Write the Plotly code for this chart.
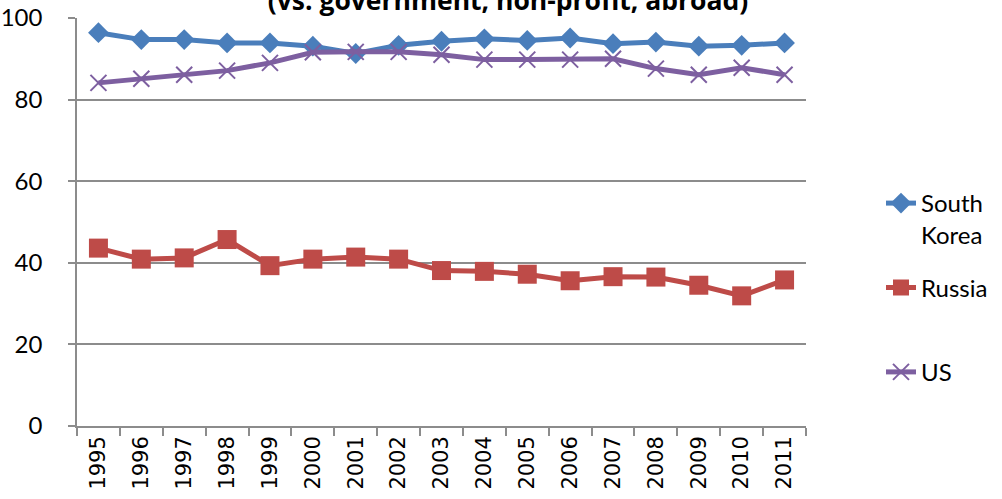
import plotly.graph_objects as go

years = [str(y) for y in range(1995, 2012)]

south_korea = [96.4, 94.7, 94.7, 93.9, 93.9, 93.1, 91.3, 93.3, 94.3,
               94.9, 94.5, 95.1, 93.7, 94.1, 93.1, 93.3, 93.9]
russia = [43.6, 40.9, 41.2, 45.7, 39.3, 40.9, 41.4, 40.9, 38.1,
          37.9, 37.2, 35.6, 36.6, 36.5, 34.5, 31.9, 35.8]
us = [84.1, 85.1, 86.1, 87.1, 89.0, 91.6, 91.7, 91.7, 91.0,
      89.8, 89.8, 89.8, 90.0, 87.6, 86.1, 87.8, 86.1]

# legend labels; the trailing blank line keeps the legend rows evenly spaced
series_names = ["South<br>Korea", "Russia<br> ", "US"]
colors = ["#4a7ebb", "#be4b48", "#7d5fa0"]

fig = go.Figure()

fig.add_trace(go.Scatter(
    x=years, y=south_korea, name=series_names[0], legendgroup="g1",
    mode="lines+markers",
    line=dict(color=colors[0], width=5),
    marker=dict(symbol="diamond", size=16, color=colors[0]),
))
fig.add_trace(go.Scatter(
    x=years, y=russia, name=series_names[1], legendgroup="g2",
    mode="lines+markers",
    line=dict(color=colors[1], width=5),
    marker=dict(symbol="square", size=19, color=colors[1]),
))
fig.add_trace(go.Scatter(
    x=years, y=us, name=series_names[2], legendgroup="g3",
    mode="lines+markers",
    line=dict(color=colors[2], width=5),
    marker=dict(symbol="x-thin", size=16,
                line=dict(color=colors[2], width=2)),
))

fig.update_layout(
    width=1002, height=499,
    margin=dict(l=77, r=196, t=18, b=73, autoexpand=False),
    paper_bgcolor="white", plot_bgcolor="white",
    title=dict(
        text="<b>(vs. government, non-profit, abroad)</b>",
        font=dict(family="Open Sans", size=26.5, color="black"),
        xref="container", x=0.507, xanchor="center",
        yref="container", y=1 - 10 / 499, yanchor="bottom",
    ),
    legend=dict(
        xref="container", yref="container",
        x=881 / 1002, y=1 - 181 / 499,
        xanchor="left", yanchor="top",
        valign="top", tracegroupgap=19,
        font=dict(family="Lato", size=24, color="black"),
        bgcolor="rgba(0,0,0,0)",
    ),
    showlegend=True,
)

fig.update_xaxes(
    type="category", tickson="boundaries", range=[-0.5, 16.5],
    automargin=False,
    ticks="outside", ticklen=8, tickcolor="#8c8c8c", tickwidth=1.5,
    showline=True, linecolor="#8c8c8c", linewidth=1.5,
    showgrid=False, tickangle=-90,
    tickfont=dict(family="DejaVu Sans", size=21, color="black"),
)
fig.update_yaxes(
    range=[0, 100], dtick=20, tick0=0, automargin=False,
    ticks="outside", ticklen=7, tickcolor="#8c8c8c", tickwidth=1.5,
    showline=True, linecolor="#8c8c8c", linewidth=1.5,
    showgrid=True, gridcolor="#8c8c8c", gridwidth=1.5,
    zeroline=False, ticklabelstandoff=21,
    tickfont=dict(family="Lato", size=24, color="black"),
)

fig.write_html("out.html")
